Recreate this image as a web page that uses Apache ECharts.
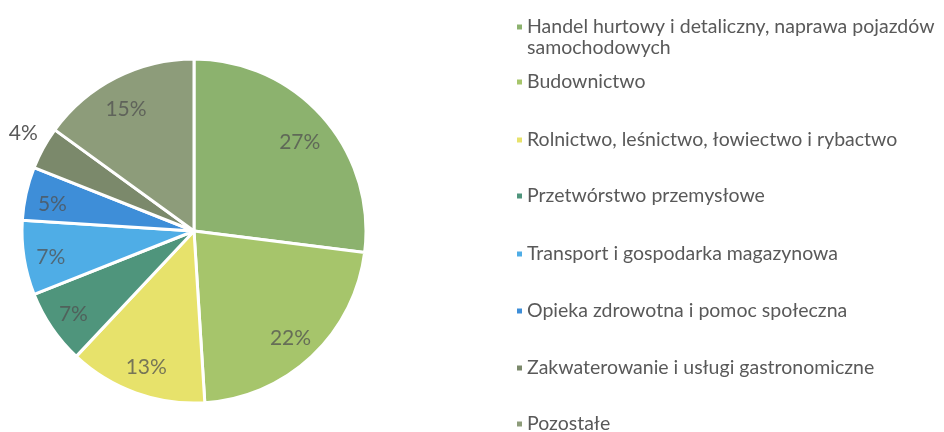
<!DOCTYPE html>
<html>
<head>
<meta charset="utf-8">
<script src="https://cdn.jsdelivr.net/npm/echarts@6/dist/echarts.min.js"></script>
<style>
  html, body { margin: 0; padding: 0; background: #fff; }
  #chart { width: 944px; height: 432px; }
</style>
</head>
<body>
<div id="chart"></div>
<script>
// dane
const categories = [
  'Handel hurtowy i detaliczny, naprawa pojazdów samochodowych',
  'Budownictwo',
  'Rolnictwo, leśnictwo, łowiectwo i rybactwo',
  'Przetwórstwo przemysłowe',
  'Transport i gospodarka magazynowa',
  'Opieka zdrowotna i pomoc społeczna',
  'Zakwaterowanie i usługi gastronomiczne',
  'Pozostałe'
]
const shares = [27, 22, 13, 7, 7, 5, 4, 15]

const colors = ['#8cb26e', '#a6c56b', '#e7e26b', '#4f957c', '#4fade6', '#3e8ed8', '#7b896b', '#8d9c7a']
const fontFamily = 'Lato, "Open Sans", sans-serif'
const legendFont = 19.5

// pozycje legendy (środek wiersza)
const legendRows = [27, 82, 140, 196, 254, 311, 368, 424]

const chart = echarts.init(document.getElementById('chart'))

const pieData = categories.map((name, i) => ({
  name,
  value: shares[i],
  itemStyle: { color: colors[i] }
}))

// osobna, przezroczysta seria tylko na etykiety (żeby były bliżej krawędzi)
const labelData = categories.map((name, i) => {
  const item = { name, value: shares[i] }
  if (shares[i] === 4) {
    item.label = { position: 'outside', color: '#595959', overflow: 'none' }
    item.labelLine = { show: false, length: 12, length2: 0 }
  }
  return item
})

const legends = categories.map((name, i) => ({
  orient: 'vertical',
  left: 515,
  top: legendRows[i] - 11,
  padding: 0,
  itemWidth: 7,
  itemHeight: 7,
  icon: 'rect',
  itemGap: 0,
  selectedMode: false,
  data: [name],
  formatter: n => (i === 0 ? 'Handel hurtowy i detaliczny, naprawa pojazdów' : n),
  textStyle: {
    fontFamily,
    fontSize: legendFont,
    lineHeight: 22,
    color: '#595959',
    padding: [0, 0, 0, -1]
  }
}))

chart.setOption({
  animation: false,
  legend: legends,
  graphic: [{
    type: 'text',
    left: 527,
    top: 38,
    style: { text: 'samochodowych', font: legendFont + 'px ' + fontFamily, fill: '#595959' }
  }],
  series: [
    {
      type: 'pie',
      center: [194, 231],
      radius: [0, 172],
      startAngle: 90,
      clockwise: true,
      label: { show: false },
      labelLine: { show: false },
      itemStyle: { borderColor: '#fff', borderWidth: 3 },
      emphasis: { disabled: true },
      data: pieData
    },
    {
      type: 'pie',
      center: [194, 231],
      radius: [104, 172],
      startAngle: 90,
      clockwise: true,
      silent: true,
      legendHoverLink: false,
      itemStyle: { color: 'rgba(0,0,0,0)' },
      label: {
        show: true,
        position: 'inside',
        formatter: '{c}%',
        fontFamily,
        fontSize: 21,
        color: 'rgba(80,80,80,0.75)'
      },
      labelLine: { show: false },
      labelLayout: p => (p.dataIndex === 6 ? { dx: 10, dy: -9 } : { dy: 4, dx: p.dataIndex > 2 ? -4 : 0 }),
      emphasis: { disabled: true },
      data: labelData
    }
  ]
})
</script>
</body>
</html>
